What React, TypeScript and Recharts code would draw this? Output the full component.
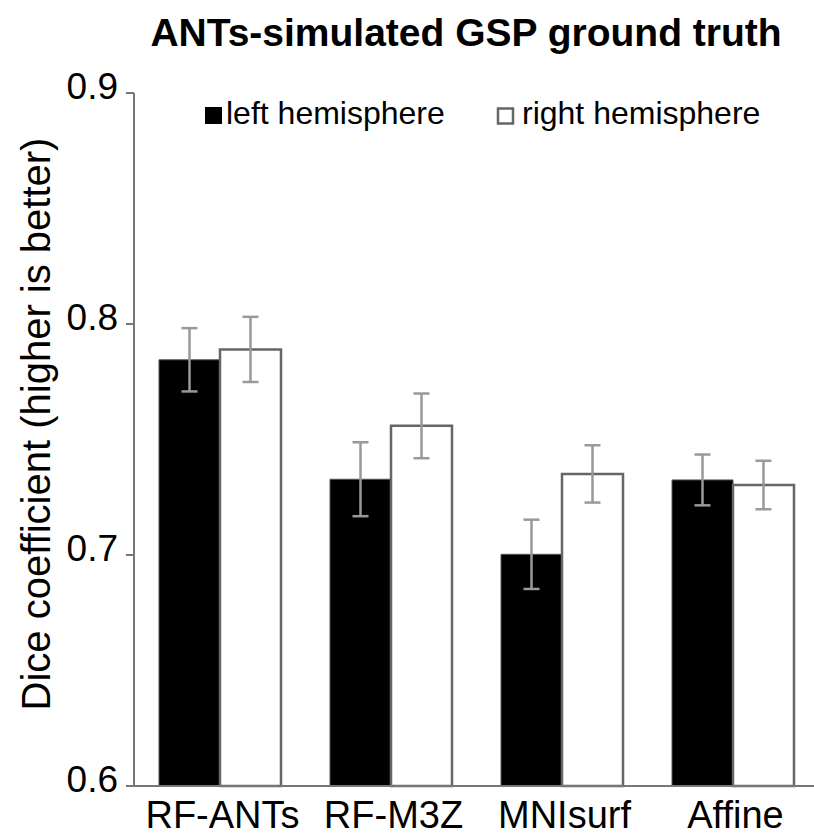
import React from 'react';
import { Bar, BarChart, ErrorBar, XAxis, YAxis } from 'recharts';

const categories = ['RF-ANTs', 'RF-M3Z', 'MNIsurf', 'Affine'];
const leftValues = [0.7845, 0.7328, 0.7003, 0.7325];
const leftErrors = [0.0137, 0.016, 0.015, 0.011];
const rightValues = [0.789, 0.7559, 0.7351, 0.7303];
const rightErrors = [0.0141, 0.014, 0.0124, 0.0105];
const yTicks = [0.6, 0.7, 0.8, 0.9];
const seriesNames = ['left hemisphere', 'right hemisphere'];

const data = categories.map((name, i) => ({
  name,
  left: leftValues[i],
  leftErr: leftErrors[i],
  right: rightValues[i],
  rightErr: rightErrors[i],
}));

const FONT = '"Liberation Sans", Arial, sans-serif';

const XTick = (props: any) => {
  const { x, y, payload } = props;
  return (
    <text x={x + 3} y={y} dy={42} textAnchor="middle" fontSize={38} fontFamily={FONT} fill="#000">
      {payload.value}
    </text>
  );
};

const YTick = (props: any) => {
  const { x, y, payload } = props;
  return (
    <text x={x} y={y} dy={6} textAnchor="end" fontSize={37} fontFamily={FONT} fill="#000">
      {Number(payload.value).toFixed(1)}
    </text>
  );
};

// rotated axis title, placed by hand like the original figure
const YLabel = () => (
  <text
    x={50}
    y={424}
    transform="rotate(-90, 50, 424)"
    textAnchor="middle"
    fontSize={40}
    fontFamily={FONT}
    fill="#000"
  >
    Dice coefficient (higher is better)
  </text>
);

export default function App() {
  return (
    <div style={{ position: 'absolute', left: 0, top: 0, width: 814, height: 836, overflow: 'hidden', background: '#fff' }}>
      <BarChart
        width={830}
        height={836}
        data={data}
        margin={{ top: 93, right: 12, bottom: 0, left: 0 }}
        barGap={0}
      >
        <XAxis
          dataKey="name"
          height={50}
          tickLine={false}
          tickSize={0}
          tickMargin={0}
          interval={0}
          axisLine={{ stroke: '#777', strokeWidth: 2 }}
          tick={<XTick />}
        />
        <YAxis
          width={134}
          domain={[0.6, 0.9]}
          ticks={yTicks}
          interval={0}
          tickSize={8}
          tickMargin={8}
          axisLine={{ stroke: '#777', strokeWidth: 2 }}
          tickLine={{ stroke: '#777', strokeWidth: 2 }}
          tick={<YTick />}
          label={<YLabel />}
        />
        <Bar dataKey="left" name={seriesNames[0]} barSize={61} fill="#000" stroke="#555" strokeWidth={1} isAnimationActive={false}>
          <ErrorBar dataKey="leftErr" width={8} stroke="#999" strokeWidth={2.5} direction="y" />
        </Bar>
        <Bar dataKey="right" name={seriesNames[1]} barSize={61} fill="#fff" stroke="#666" strokeWidth={2.5} isAnimationActive={false}>
          <ErrorBar dataKey="rightErr" width={8} stroke="#999" strokeWidth={2.5} direction="y" />
        </Bar>
      </BarChart>
      <svg width={814} height={836} style={{ position: 'absolute', left: 0, top: 0, pointerEvents: 'none' }}>
        <text x={466} y={46} textAnchor="middle" fontSize={39} fontWeight="bold" fontFamily={FONT} fill="#000">
          ANTs-simulated GSP ground truth
        </text>
        <rect x={205} y={107} width={17} height={17} fill="#000" />
        <text x={226} y={124} fontSize={32} fontFamily={FONT} fill="#000">
          {seriesNames[0]}
        </text>
        <rect x={498} y={108.5} width={15} height={15} fill="#fff" stroke="#666" strokeWidth={2.5} />
        <text x={522} y={124} fontSize={32} fontFamily={FONT} fill="#000">
          {seriesNames[1]}
        </text>
      </svg>
    </div>
  );
}
